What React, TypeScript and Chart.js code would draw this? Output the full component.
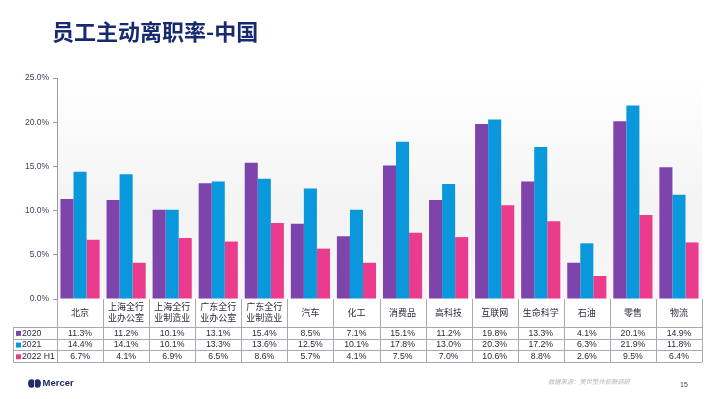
import React, { useEffect, useRef } from "react";
import { Chart, registerables } from "chart.js";

Chart.register(...registerables);

const categories: string[][] = [
  ["北京"],
  ["上海全行", "业办公室"],
  ["上海全行", "业制造业"],
  ["广东全行", "业办公室"],
  ["广东全行", "业制造业"],
  ["汽车"],
  ["化工"],
  ["消费品"],
  ["高科技"],
  ["互联网"],
  ["生命科学"],
  ["石油"],
  ["零售"],
  ["物流"],
];

const seriesNames = ["2020", "2021", "2022 H1"];
const values2020 = [11.3, 11.2, 10.1, 13.1, 15.4, 8.5, 7.1, 15.1, 11.2, 19.8, 13.3, 4.1, 20.1, 14.9];
const values2021 = [14.4, 14.1, 10.1, 13.3, 13.6, 12.5, 10.1, 17.8, 13.0, 20.3, 17.2, 6.3, 21.9, 11.8];
const values2022H1 = [6.7, 4.1, 6.9, 6.5, 8.6, 5.7, 4.1, 7.5, 7.0, 10.6, 8.8, 2.6, 9.5, 6.4];
const seriesColors = ["#7D45AB", "#0A98DC", "#EB3B8C"];

const FONT = "'Liberation Sans', Arial, sans-serif";
const CJK = "'Noto Sans CJK SC', sans-serif";

const tablePlugin = {
  id: "tablePlugin",
  beforeDraw(chart: any) {
    const { ctx, chartArea } = chart;
    const g = ctx.createLinearGradient(0, chartArea.top, 0, chartArea.bottom);
    g.addColorStop(0, "#ffffff");
    g.addColorStop(0.6, "#f3f3f4");
    g.addColorStop(1, "#f7f7f8");
    ctx.save();
    ctx.fillStyle = g;
    ctx.fillRect(chartArea.left, chartArea.top, chartArea.right - chartArea.left, chartArea.bottom - chartArea.top);
    ctx.restore();
  },
  afterDraw(chart: any) {
    const { ctx, chartArea } = chart;
    const xs = chart.scales.x;
    const n = categories.length;
    const colW = (chartArea.right - chartArea.left) / n;
    const top = chartArea.bottom;
    const headerBottom = top + 28;
    const rowH = 11.7;
    const tableLeft = 13;
    const tableBottom = headerBottom + rowH * 3;
    const allSeries = [values2020, values2021, values2022H1];

    ctx.save();
    ctx.strokeStyle = "#a8a8b6";
    ctx.lineWidth = 1;
    ctx.beginPath();
    for (let i = 0; i <= n; i++) {
      const x = Math.round(chartArea.left + i * colW) + 0.5;
      ctx.moveTo(x, top);
      ctx.lineTo(x, tableBottom);
    }
    ctx.moveTo(tableLeft + 0.5, headerBottom);
    ctx.lineTo(tableLeft + 0.5, tableBottom);
    for (let r = 0; r <= 3; r++) {
      const y = Math.round(headerBottom + r * rowH) + 0.5;
      ctx.moveTo(tableLeft, y);
      ctx.lineTo(chartArea.right, y);
    }
    ctx.stroke();

    ctx.fillStyle = "#2a2a3a";
    ctx.textAlign = "center";
    ctx.textBaseline = "middle";
    ctx.font = `9px ${CJK}`;
    categories.forEach((lines, i) => {
      const cx = xs.getPixelForValue(i);
      if (lines.length === 1) {
        ctx.fillText(lines[0], cx, top + 13.5);
      } else {
        ctx.fillText(lines[0], cx, top + 7.5);
        ctx.fillText(lines[1], cx, top + 19);
      }
    });

    ctx.font = `8.7px ${FONT}`;
    allSeries.forEach((vals, r) => {
      const cy = headerBottom + r * rowH + rowH / 2 + 0.5;
      ctx.textAlign = "center";
      ctx.fillStyle = "#2a2a3a";
      vals.forEach((v, i) => {
        ctx.fillText(v.toFixed(1) + "%", xs.getPixelForValue(i), cy);
      });
      ctx.fillStyle = seriesColors[r];
      ctx.fillRect(16, cy - 2.5, 5, 5);
      ctx.fillStyle = "#2a2a3a";
      ctx.textAlign = "left";
      ctx.fillText(seriesNames[r], 22, cy);
    });
    ctx.restore();
  },
};

export default function App() {
  const ref = useRef<HTMLCanvasElement>(null);
  useEffect(() => {
    document.body.style.margin = "0";
    const chart = new Chart(ref.current!, {
      type: "bar",
      data: {
        labels: categories.map((c) => c.join("")),
        datasets: [values2020, values2021, values2022H1].map((d, i) => ({
          label: seriesNames[i],
          data: d,
          backgroundColor: seriesColors[i],
          borderWidth: 0,
          categoryPercentage: 0.85,
          barPercentage: 1,
        })),
      },
      options: {
        animation: false,
        responsive: false,
        maintainAspectRatio: false,
        layout: { padding: { top: 78, right: 8, bottom: 100, left: 0 } },
        plugins: { legend: { display: false }, tooltip: { enabled: false } },
        scales: {
          x: { display: false },
          y: {
            min: 0,
            max: 25,
            ticks: {
              stepSize: 5,
              color: "#3c425e",
              font: { family: FONT, size: 8.5 },
              padding: 4,
              callback: (v: any) => Number(v).toFixed(1) + "%",
            },
            grid: { drawOnChartArea: false, drawTicks: true, tickLength: 4, color: "#9a9aa6" },
            border: { display: true, color: "#9a9aa6" },
            afterFit: (s: any) => {
              s.width = 57;
            },
          },
        },
      },
      plugins: [tablePlugin],
    });
    return () => chart.destroy();
  }, []);

  return (
    <div style={{ position: "relative", width: 710, height: 399, background: "#fff", overflow: "hidden" }}>
      <canvas ref={ref} width={710} height={399} style={{ position: "absolute", left: 0, top: 0 }} />
      <div
        style={{
          position: "absolute",
          left: 52,
          top: 14,
          fontFamily: "'Noto Sans CJK SC', sans-serif",
          fontWeight: 700,
          fontSize: 22,
          lineHeight: "32px",
          color: "#172a70",
          whiteSpace: "nowrap",
        }}
      >
        员工主动离职率-中国
      </div>
      <div style={{ position: "absolute", left: 28, top: 377, display: "flex", alignItems: "center" }}>
        <svg width="13" height="9" viewBox="0 0 13 9">
          <ellipse cx="3.5" cy="4.5" rx="3.4" ry="4.2" fill="#1E2D64" />
          <ellipse cx="9.5" cy="4.5" rx="3.4" ry="4.2" fill="#1E2D64" />
          <path d="M6.5 1 L6.5 8" stroke="#fff" strokeWidth="0.8" />
        </svg>
        <span
          style={{
            fontFamily: "'Liberation Sans', Arial, sans-serif",
            fontSize: 9.5,
            fontWeight: 600,
            color: "#1E2D64",
            marginLeft: 1.5,
            lineHeight: "12px",
          }}
        >
          Mercer
        </span>
      </div>
      <div
        style={{
          position: "absolute",
          left: 548,
          top: 378,
          fontFamily: "'Noto Sans CJK SC', sans-serif",
          fontSize: 6.3,
          fontStyle: "italic",
          color: "#b8b8c0",
          whiteSpace: "nowrap",
          lineHeight: "8px",
        }}
      >
        数据来源：美世整体薪酬调研
      </div>
      <div
        style={{
          position: "absolute",
          left: 680,
          top: 381,
          fontFamily: "'Liberation Sans', Arial, sans-serif",
          fontSize: 7,
          color: "#444",
          lineHeight: "8px",
        }}
      >
        15
      </div>
    </div>
  );
}
